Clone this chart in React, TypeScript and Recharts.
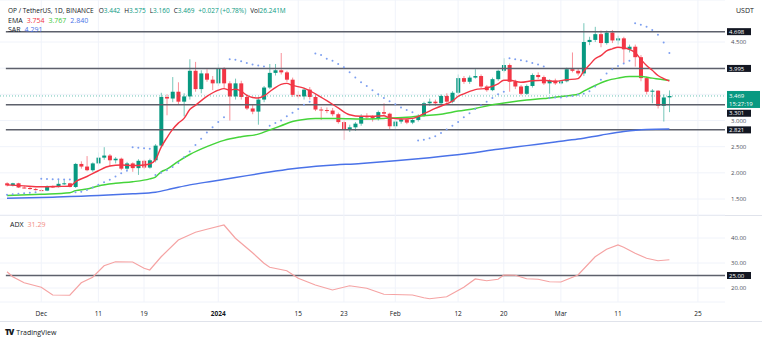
import { ComposedChart, Bar, Line, XAxis, YAxis, CartesianGrid, ReferenceLine } from 'recharts';

const FONT = '"Open Sans", "Liberation Sans", sans-serif';
const GREEN = '#089981';
const RED = '#f23645';
const INK = '#131722';

// daily candles, Nov 25 2023 .. Mar 20 2024 (index 0..116)
const opens = [
  1.80, 1.76, 1.80, 1.72, 1.71, 1.69, 1.67, 1.66, 1.74, 1.73,
  1.79, 1.80, 1.73, 2.17, 2.12, 2.05, 2.18, 2.29, 2.33, 2.24,
  2.27, 2.08, 2.18, 2.09, 2.23, 2.10, 2.24, 2.52, 3.45, 3.42,
  3.55, 3.36, 3.46, 3.95, 3.60, 3.90, 3.78, 3.71, 3.99, 3.71,
  3.46, 3.71, 3.45, 3.23, 3.17, 3.40, 3.63, 3.91, 3.96, 3.92,
  3.78, 3.49, 3.46, 3.59, 3.45, 3.21, 3.20, 3.19, 3.12, 2.97,
  2.83, 2.87, 2.94, 3.08, 3.07, 3.04, 3.16, 3.13, 2.89, 2.98,
  3.02, 2.96, 3.01, 3.09, 3.33, 3.36, 3.33, 3.47, 3.36, 3.53,
  3.81, 3.74, 3.82, 3.85, 3.65, 3.58, 3.79, 3.95, 4.06, 3.74,
  3.65, 3.51, 3.66, 3.87, 3.83, 3.71, 3.76, 3.71, 3.75, 3.98,
  3.95, 3.90, 4.50, 4.54, 4.65, 4.48, 4.68, 4.53, 4.57, 4.36,
  4.41, 4.21, 3.81, 3.55, 3.57, 3.28, 3.442,
];
const highs = [
  1.82, 1.81, 1.81, 1.75, 1.73, 1.71, 1.69, 1.76, 1.76, 1.87,
  1.86, 1.81, 2.19, 2.22, 2.32, 2.20, 2.39, 2.49, 2.36, 2.30,
  2.29, 2.21, 2.20, 2.26, 2.25, 2.27, 2.55, 3.53, 3.50, 3.83,
  3.73, 3.52, 4.17, 4.12, 3.96, 3.98, 3.85, 4.08, 4.02, 3.75,
  3.80, 3.76, 3.50, 3.30, 3.45, 3.66, 4.08, 4.08, 4.29, 3.95,
  3.82, 3.56, 3.62, 3.64, 3.48, 3.26, 3.25, 3.24, 3.15, 3.00,
  2.92, 2.97, 3.12, 3.14, 3.10, 3.19, 3.33, 3.15, 3.01, 3.05,
  3.04, 3.03, 3.12, 3.36, 3.42, 3.40, 3.50, 3.52, 3.56, 3.88,
  3.85, 3.86, 3.98, 3.88, 3.68, 3.82, 3.97, 4.19, 4.09, 3.78,
  3.68, 3.69, 3.90, 3.92, 3.86, 3.79, 3.80, 3.77, 4.01, 4.30,
  4.00, 4.86, 4.60, 4.79, 4.72, 4.72, 4.73, 4.62, 4.60, 4.45,
  4.45, 4.25, 3.84, 3.60, 3.58, 3.50, 3.575,
];
const lows = [
  1.74, 1.74, 1.71, 1.70, 1.68, 1.66, 1.65, 1.65, 1.71, 1.72,
  1.77, 1.72, 1.71, 2.08, 2.03, 2.02, 2.14, 2.25, 2.12, 2.18,
  2.05, 2.05, 2.02, 1.96, 2.07, 2.08, 2.20, 2.50, 3.10, 3.35,
  3.30, 3.08, 3.40, 3.55, 3.52, 3.74, 3.58, 3.66, 3.62, 3.00,
  3.40, 3.40, 3.20, 3.12, 2.92, 3.35, 3.60, 3.86, 3.88, 3.74,
  3.45, 3.42, 3.40, 3.40, 3.18, 3.01, 3.14, 3.08, 2.94, 2.63,
  2.78, 2.80, 2.90, 3.02, 2.98, 3.00, 3.10, 2.82, 2.82, 2.94,
  2.93, 2.93, 2.98, 3.07, 3.28, 3.28, 3.30, 3.33, 3.33, 3.50,
  3.70, 3.70, 3.80, 3.62, 3.55, 3.56, 3.76, 3.92, 3.55, 3.60,
  3.48, 3.49, 3.63, 3.79, 3.68, 3.51, 3.68, 3.69, 3.73, 3.92,
  3.86, 3.85, 4.44, 4.50, 4.40, 4.45, 4.48, 4.45, 4.10, 4.30,
  4.03, 3.75, 3.50, 3.33, 3.23, 2.98, 3.160,
];
const closes = [
  1.76, 1.80, 1.72, 1.71, 1.69, 1.67, 1.66, 1.74, 1.73, 1.79,
  1.80, 1.73, 2.17, 2.12, 2.05, 2.18, 2.29, 2.33, 2.24, 2.27,
  2.08, 2.18, 2.09, 2.23, 2.10, 2.24, 2.52, 3.45, 3.42, 3.55,
  3.36, 3.46, 3.95, 3.60, 3.90, 3.78, 3.71, 3.99, 3.71, 3.46,
  3.71, 3.45, 3.23, 3.17, 3.40, 3.63, 3.91, 3.96, 3.92, 3.78,
  3.49, 3.46, 3.59, 3.45, 3.21, 3.20, 3.19, 3.12, 2.97, 2.83,
  2.87, 2.94, 3.08, 3.07, 3.04, 3.16, 3.13, 2.89, 2.98, 3.02,
  2.96, 3.01, 3.09, 3.33, 3.36, 3.33, 3.47, 3.36, 3.53, 3.81,
  3.74, 3.82, 3.85, 3.65, 3.58, 3.79, 3.95, 4.06, 3.74, 3.65,
  3.51, 3.66, 3.87, 3.83, 3.71, 3.76, 3.71, 3.75, 3.98, 3.95,
  3.90, 4.50, 4.54, 4.65, 4.48, 4.68, 4.53, 4.57, 4.36, 4.41,
  4.21, 3.81, 3.55, 3.57, 3.28, 3.44, 3.469,
];

// parabolic SAR, one dot per candle
const sar = [
  1.58, 1.59, 1.60, 1.61, 1.62, 1.63, 1.885, 1.88, 1.878, 1.876,
  1.874, 1.872, 1.63, 1.64, 1.67, 1.72, 1.77, 1.82, 1.87, 1.93,
  1.99, 2.04, 2.49, 2.48, 2.47, 2.46, 1.96, 2.00, 2.05, 2.11,
  2.19, 2.30, 2.41, 2.53, 2.65, 2.77, 2.87, 2.97, 3.06, 4.17,
  4.16, 4.13, 4.10, 4.07, 4.05, 4.03, 2.90, 2.95, 3.00, 3.08,
  3.15, 3.22, 3.30, 3.36, 4.28, 4.25, 4.18, 4.14, 4.08, 4.02,
  3.92, 3.82, 3.73, 3.66, 3.58, 3.50, 3.43, 3.37, 3.31, 3.25,
  3.20, 3.16, 2.62, 2.63, 2.66, 2.70, 2.76, 2.83, 2.90, 2.97,
  3.06, 3.14, 3.22, 3.29, 3.36, 3.43, 3.50, 3.55, 4.19, 4.17,
  4.15, 4.13, 4.10, 4.07, 4.03, 3.43, 3.44, 3.44, 3.46, 3.47,
  3.49, 3.51, 3.56, 3.65, 3.78, 3.90, 3.98, 4.04, 4.09, 4.14,
  4.86, 4.83, 4.79, 4.73, 4.64, 4.49, 4.29,
];

// EMA readings [candle index, value]
const emaFast: [number, number][] = [
  [0, 1.77], [3, 1.75], [6, 1.735], [9, 1.74], [11, 1.745], [12, 1.83], [14, 1.93], [16, 2.04],
  [18, 2.13], [20, 2.15], [22, 2.14], [24, 2.15], [25, 2.17], [26, 2.25], [27, 2.49], [28, 2.67],
  [29, 2.83], [30, 2.95], [31, 3.04], [32, 3.21], [33, 3.29], [35, 3.46], [37, 3.58], [38, 3.61],
  [39, 3.58], [40, 3.60], [41, 3.56], [42, 3.48], [43, 3.44], [44, 3.43], [45, 3.47], [46, 3.55],
  [47, 3.63], [48, 3.69], [49, 3.71], [50, 3.67], [52, 3.62], [54, 3.51], [56, 3.38], [58, 3.24],
  [60, 3.11], [62, 3.08], [64, 3.08], [66, 3.09], [67, 3.05], [69, 3.03], [71, 3.04], [73, 3.13],
  [75, 3.23], [77, 3.32], [78, 3.37], [79, 3.46], [80, 3.51], [82, 3.59], [84, 3.62], [86, 3.70],
  [87, 3.77], [88, 3.77], [90, 3.73], [92, 3.76], [94, 3.77], [96, 3.75], [98, 3.78], [100, 3.80],
  [101, 3.94], [102, 4.06], [103, 4.18], [104, 4.24], [105, 4.33], [106, 4.37], [107, 4.40],
  [108, 4.39], [109, 4.36], [110, 4.30], [111, 4.17], [112, 4.05], [113, 3.96], [114, 3.86],
  [115, 3.80], [116, 3.754],
];
const emaMid: [number, number][] = [
  [0, 1.565], [6, 1.59], [11, 1.62], [12, 1.66], [14, 1.69], [16, 1.75], [19, 1.80], [22, 1.83],
  [25, 1.885], [26, 1.92], [27, 2.02], [28, 2.07], [30, 2.22], [32, 2.35], [35, 2.50], [38, 2.62],
  [41, 2.69], [44, 2.74], [46, 2.82], [48, 2.90], [50, 2.98], [52, 3.02], [54, 3.04], [58, 3.04],
  [62, 3.03], [66, 3.04], [70, 3.06], [73, 3.09], [76, 3.12], [79, 3.18], [82, 3.23], [85, 3.30],
  [88, 3.35], [91, 3.39], [94, 3.42], [97, 3.46], [100, 3.50], [101, 3.56], [103, 3.67], [105, 3.76],
  [107, 3.81], [109, 3.84], [111, 3.84], [113, 3.81], [115, 3.78], [116, 3.767],
];
const emaSlow: [number, number][] = [
  [0, 1.513], [8, 1.535], [16, 1.565], [22, 1.60], [26, 1.63], [29, 1.70], [32, 1.77], [36, 1.84],
  [40, 1.91], [45, 2.00], [50, 2.08], [56, 2.14], [62, 2.18], [68, 2.23], [74, 2.29], [80, 2.36],
  [86, 2.45], [91, 2.52], [96, 2.59], [100, 2.645], [104, 2.72], [108, 2.79], [112, 2.83], [116, 2.84],
];
const adx: [number, number][] = [
  [0, 26.5], [1, 24.5], [3, 22.1], [6, 20.3], [8, 17.2], [11, 17.1], [13, 22.1], [15, 24.3],
  [17, 28.9], [19, 30.5], [22, 30.4], [24, 27.9], [25, 27.2], [27, 32.5], [30, 39.2], [33, 42.3],
  [35, 43.5], [38, 45.2], [40, 39.9], [43, 34.1], [45, 29.9], [46, 28.3], [49, 26.9], [51, 23.9],
  [54, 21.2], [57, 19.2], [60, 20.9], [63, 19.9], [66, 17.5], [71, 17.2], [73, 16.1], [74, 15.7],
  [77, 16.5], [80, 20.3], [82, 23.6], [84, 22.9], [86, 23.5], [87, 25.2], [89, 25.1], [91, 23.7],
  [93, 23.5], [95, 22.5], [97, 22.4], [100, 25.2], [103, 32.5], [105, 35.5], [107, 37.2],
  [108, 36.3], [110, 33.9], [112, 31.9], [114, 30.9], [116, 31.29],
];

const levels = [4.698, 3.995, 3.301, 2.821];
const levelLabels = ['4.698', '3.995', '3.301', '2.821'];
const lastPrice = 3.469;
const priceTicks = [1.5, 2, 2.5, 3, 3.5, 4, 4.5];
const hiddenPriceTicks = [3.5, 4];
const adxTicks = [20, 30, 40];
const adxLevel = 25;
const dateTicks = [6, 16, 24, 37, 51, 59, 68, 79, 87, 97, 107, 121];
const dateLabels = ['Dec', '11', '19', '2024', '15', '23', 'Feb', '12', '20', 'Mar', '11', '25'];

const X_DOMAIN: [number, number] = [-1.226, 125.74];
const LINE_START = -0.2;

const fastMap = new Map(emaFast);
const midMap = new Map(emaMid);
const slowMap = new Map(emaSlow);
const adxMap = new Map(adx);

const rows = closes.map((c, i) => ({
  i,
  open: opens[i],
  high: highs[i],
  low: lows[i],
  close: c,
  sar: sar[i],
  emaFast: fastMap.get(i) ?? null,
  emaMid: midMap.get(i) ?? null,
  emaSlow: slowMap.get(i) ?? null,
  adx: adxMap.get(i) ?? null,
}));

function Candle(props: any) {
  const { x, y, width, height, payload } = props;
  if (!payload || y == null || height == null) return null;
  const top = Math.min(y, y + height);
  const h = Math.abs(height);
  const { open, close, high, low } = payload;
  const px = (v: number) => top + ((high - v) / (high - low)) * h;
  const cx = x + width / 2;
  const color = close >= open ? GREEN : RED;
  const bTop = px(Math.max(open, close));
  const bH = Math.max(1, px(Math.min(open, close)) - bTop);
  return (
    <g>
      <line x1={cx} x2={cx} y1={top} y2={top + h} stroke={color} strokeOpacity={0.55} strokeWidth={1} />
      <rect x={cx - 2} y={bTop} width={4} height={bH} fill={color} />
    </g>
  );
}

const SarDot = (p: any) => {
  if (p.cx == null || p.cy == null || p.value == null) return <g key={p.index} />;
  return <circle key={p.index} cx={p.cx} cy={p.cy} r={1} fill="#7d9ff0" />;
};

const tag = (text: string, bg: string, dy = 0, sub?: string) => (props: any) => {
  const vb = props.viewBox || {};
  const x = vb.x + vb.width + 2;
  const y = vb.y + dy;
  return (
    <g>
      <rect x={x} y={sub ? y - 5 : y - 3.5} width={sub ? 33 : 24} height={sub ? 17 : 7} fill={bg} />
      <text x={x + 2} y={y} dy="0.35em" fill="#fff" fontSize={6} fontFamily={FONT}>{text}</text>
      {sub && (
        <text x={x + 2} y={y + 8} dy="0.35em" fill="#fff" fontSize={6} fontFamily={FONT}>{sub}</text>
      )}
    </g>
  );
};

const PriceTick = (p: any) => {
  const v = p.payload?.value;
  if (v == null || hiddenPriceTicks.includes(v)) return <g />;
  return (
    <text x={p.x} y={p.y} dy="0.35em" textAnchor="start" fontSize={6} fill="#4a4e59" fontFamily={FONT}>
      {v.toFixed(3)}
    </text>
  );
};

const AdxTick = (p: any) => (
  <text x={p.x} y={p.y} dy="0.35em" textAnchor="start" fontSize={6} fill="#4a4e59" fontFamily={FONT}>
    {p.payload.value.toFixed(2)}
  </text>
);

const DateTick = (p: any) => {
  const idx = dateTicks.indexOf(p.payload.value);
  const label = dateLabels[idx] ?? '';
  return (
    <text x={p.x} y={p.y + 6} textAnchor="middle" fontSize={6.5} fill={INK} fontFamily={FONT}
      fontWeight={label === '2024' ? 700 : 400}>
      {label}
    </text>
  );
};

const vGrid = dateTicks.map((t) => (
  <ReferenceLine key={'v' + t} x={t} stroke="#f0f3fa" strokeWidth={1} />
));

const hdr: React.CSSProperties = { position: 'absolute', fontSize: 7, lineHeight: '9px', whiteSpace: 'nowrap', color: INK };
const val = (c: string, m = 0): React.CSSProperties => ({ color: c, marginLeft: m });

export default function App() {
  return (
    <div style={{ position: 'absolute', left: 0, top: 0, width: 762, height: 337, background: '#fff', overflow: 'hidden', fontFamily: FONT }}>
      <div style={{ position: 'absolute', left: 0, top: 0 }}>
        <ComposedChart width={762} height={215} data={rows} margin={{ top: 0, right: 0, left: 0, bottom: 0 }}>
          <CartesianGrid vertical={false} stroke="#f0f3fa" />
          <XAxis dataKey="i" type="number" domain={X_DOMAIN} allowDataOverflow hide />
          <YAxis
            orientation="right"
            width={37}
            type="number"
            domain={[1.1943, 5.3028]}
            allowDataOverflow
            ticks={priceTicks}
            tick={PriceTick}
            tickLine={false}
            axisLine={false}
            tickSize={6}
            tickMargin={0}
          />
          {vGrid}
          <ReferenceLine
            segment={[{ x: X_DOMAIN[0], y: lastPrice }, { x: X_DOMAIN[1], y: lastPrice }]}
            stroke={GREEN}
            strokeOpacity={0.6}
            strokeDasharray="1 2"
            label={tag('3.469', GREEN, 0, '15:27:19')}
          />
          {levels.map((lv, k) => (
            <ReferenceLine
              key={'lv' + k}
              segment={[{ x: LINE_START, y: lv }, { x: X_DOMAIN[1], y: lv }]}
              stroke="#5d606b"
              strokeWidth={1.5}
              label={tag(levelLabels[k], INK, lv === 3.301 ? 8.5 : 0)}
            />
          ))}
          <Line dataKey="emaSlow" stroke="#4a72e8" strokeWidth={1.5} dot={false} activeDot={false} connectNulls type="monotone" isAnimationActive={false} />
          <Line dataKey="emaMid" stroke="#45d43a" strokeWidth={1.5} dot={false} activeDot={false} connectNulls type="monotone" isAnimationActive={false} />
          <Line dataKey="emaFast" stroke={RED} strokeWidth={1.4} dot={false} activeDot={false} connectNulls type="monotone" isAnimationActive={false} />
          <Bar dataKey={(d: any) => [d.low, d.high]} shape={Candle} barSize={4} isAnimationActive={false} />
          <Line dataKey="sar" stroke="none" dot={SarDot} activeDot={false} isAnimationActive={false} />
        </ComposedChart>
      </div>

      <div style={{ position: 'absolute', left: 0, top: 215, width: 762, borderTop: '1px solid #e0e3eb' }} />

      <div style={{ position: 'absolute', left: 0, top: 215 }}>
        <ComposedChart width={762} height={106} data={rows} margin={{ top: 0, right: 0, left: 0, bottom: 0 }}>
          <CartesianGrid vertical={false} stroke="#f0f3fa" />
          <XAxis
            dataKey="i"
            type="number"
            domain={X_DOMAIN}
            allowDataOverflow
            ticks={dateTicks}
            interval={0}
            tick={DateTick}
            tickLine={false}
            axisLine={false}
            height={19}
          />
          <YAxis
            orientation="right"
            width={37}
            type="number"
            domain={[14.4, 49.2]}
            allowDataOverflow
            ticks={adxTicks}
            tick={AdxTick}
            tickLine={false}
            axisLine={false}
            tickSize={6}
            tickMargin={0}
          />
          {vGrid}
          <ReferenceLine
            segment={[{ x: LINE_START, y: adxLevel }, { x: X_DOMAIN[1], y: adxLevel }]}
            stroke="#5d606b"
            strokeWidth={1.5}
            label={tag('25.00', INK)}
          />
          <Line dataKey="adx" stroke="#f5a3a3" strokeWidth={1.2} dot={false} activeDot={false} connectNulls type="linear" isAnimationActive={false} />
        </ComposedChart>
      </div>

      <div style={{ position: 'absolute', left: 0, top: 321, width: 762, borderTop: '1px solid #e0e3eb' }} />

      <div style={{ ...hdr, left: 8, top: 5.5, fontSize: 6.5 }}>
        OP / TetherUS, 1D, BINANCE
        <span style={val(INK, 5)}>O</span><span style={val(GREEN)}>3.442</span>
        <span style={val(INK, 4)}>H</span><span style={val(GREEN)}>3.575</span>
        <span style={val(INK, 4)}>L</span><span style={val(GREEN)}>3.160</span>
        <span style={val(INK, 4)}>C</span><span style={val(GREEN)}>3.469</span>
        <span style={val(GREEN, 4)}>+0.027 (+0.78%)</span>
        <span style={val(INK, 4)}>Vol</span><span style={val(GREEN)}>26.241M</span>
      </div>
      <div style={{ ...hdr, left: 8, top: 15.5 }}>
        EMA<span style={val(RED, 4)}>3.754</span>
        <span style={val('#3fc93a', 4)}>3.767</span>
        <span style={val('#4a72e8', 4)}>2.840</span>
      </div>
      <div style={{ ...hdr, left: 8, top: 24.5 }}>
        SAR<span style={val('#4a72e8', 4)}>4.291</span>
      </div>
      <div style={{ ...hdr, left: 736, top: 5.5 }}>USDT</div>
      <div style={{ ...hdr, left: 10, top: 219.5 }}>
        ADX<span style={val('#f28b82', 4)}>31.29</span>
      </div>
      <div style={{ ...hdr, left: 5, top: 326.5 }}>
        <span style={{ fontWeight: 900, fontSize: 8, letterSpacing: -1 }}>TV</span>
        <span style={{ marginLeft: 3 }}>TradingView</span>
      </div>
    </div>
  );
}
